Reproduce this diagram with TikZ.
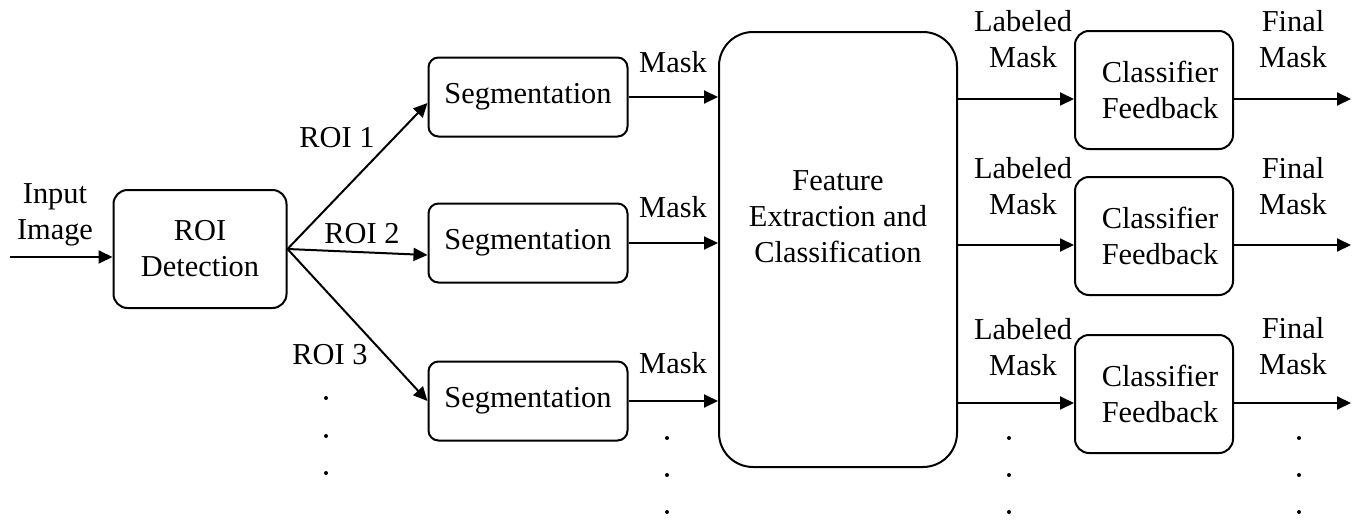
\documentclass[tikz,border=0pt]{standalone}
\usepackage{fontspec}
\setmainfont{Liberation Serif}
\usetikzlibrary{arrows.meta}

\begin{document}
\begin{tikzpicture}[x=0.5pt, y=-0.5pt,
    every node/.style={font=\fontsize{15.2}{18}\selectfont, align=center},
    box/.style={draw, line width=1pt, rounded corners=7pt, inner sep=0pt},
    segbox/.style={box, rounded corners=5pt, minimum width=99.5pt, minimum height=39.5pt},
    fbbox/.style={box, minimum width=79pt, minimum height=59pt},
    link/.style={line width=1pt, -{Triangle[length=7pt,width=6.5pt]}}]
  \useasboundingbox (0,0) rectangle (1362,520);

  \node[box, minimum width=86.5pt, minimum height=59pt] (roi) at (200,249) {ROI\\Detection};
  \node[segbox] (seg1) at (528,97) {Segmentation};
  \node[segbox] (seg2) at (528,243) {Segmentation};
  \node[segbox] (seg3) at (528,401) {Segmentation};
  \node[box, rounded corners=17pt, minimum width=119pt, minimum height=217.5pt] (fec) at (838,249.5) {};
  \node (fectext) at (838,217) {Feature\\Extraction and\\Classification};
  \node[fbbox] (cf1) at (1154,90) {\hspace{6pt}Classifier\\\hspace{6pt}Feedback};
  \node[fbbox] (cf2) at (1154,236) {\hspace{6pt}Classifier\\\hspace{6pt}Feedback};
  \node[fbbox] (cf3) at (1154,394) {\hspace{6pt}Classifier\\\hspace{6pt}Feedback};

  \node (inlbl) at (55,215) {Input\\Image};
  \node (roi1) at (337,138) {ROI 1};
  \node (roi2) at (362,234) {ROI 2};
  \node (roi3) at (330,355) {ROI 3};
  \node (mask1) at (673,62) {Mask};
  \node (mask2) at (673,207) {Mask};
  \node (mask3) at (673,363) {Mask};
  \node (lab1) at (1023,39) {Labeled\\Mask};
  \node (lab2) at (1023,186) {Labeled\\Mask};
  \node (lab3) at (1023,347) {Labeled\\Mask};
  \node (fin1) at (1293,39) {Final\\Mask};
  \node (fin2) at (1293,186) {Final\\Mask};
  \node (fin3) at (1293,346) {Final\\Mask};

  \coordinate (in) at (10,257);
  \draw[link] (in) -- (in -| roi.west);
  \draw[link] (roi.east) -- ([yshift=-3pt]seg1.west);
  \draw[link] (roi.east) -- ([yshift=-6pt]seg2.west);
  \draw[link] (roi.east) -- (seg3.west);
  \foreach \s in {seg1,seg2,seg3}
    \draw[link] (\s.east) -- (\s.east -| fec.west);
  \foreach \c in {cf1,cf2,cf3} {
    \draw[link] ([yshift=-4.5pt]\c.west -| fec.east) -- ([yshift=-4.5pt]\c.west);
    \coordinate (\c out) at ([yshift=-4.5pt,xshift=58.5pt]\c.east);
    \draw[link] ([yshift=-4.5pt]\c.east) -- (\c out);
  }

  \foreach \x/\y in {326/398,326/436,326/473,667/438,667/475,667/512,1009/438,1009/475,1009/512,1299/438,1299/475,1299/512}
    \fill (\x,\y) circle (1pt);
\end{tikzpicture}
\end{document}
